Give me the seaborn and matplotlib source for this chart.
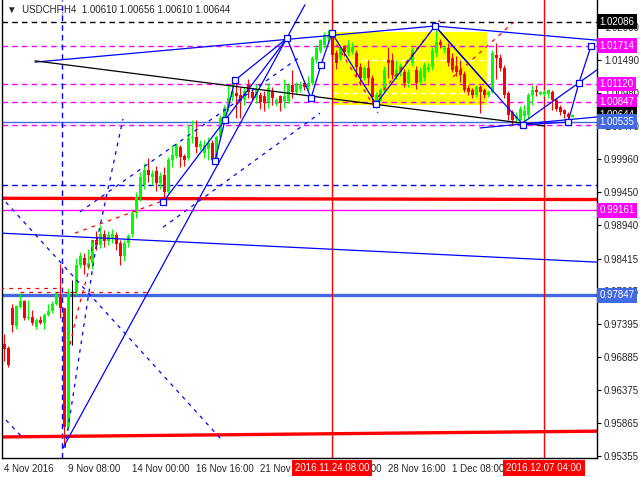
import matplotlib
matplotlib.use("Agg")
import matplotlib.pyplot as plt
import matplotlib.transforms as mtransforms
from matplotlib.patches import Rectangle
import numpy as np
import pandas as pd
import seaborn as sns

# H4 candles, USDCHF 4 Nov - 7 Dec 2016
opens = [0.9709, 0.9703, 0.9765, 0.9737, 0.9766, 0.9775, 0.9749, 0.9751, 0.9735, 0.9746,
         0.9742, 0.9754, 0.9760, 0.9771, 0.9782, 0.9765, 0.9580, 0.9790, 0.9790, 0.9831,
         0.9843, 0.9829, 0.9834, 0.9870, 0.9862, 0.9880, 0.9868, 0.9873, 0.9878, 0.9866,
         0.9845, 0.9866, 0.9880, 0.9912, 0.9937, 0.9955, 0.9979, 0.9968, 0.9977, 0.9958,
         0.9971, 0.9945, 0.9994, 1.0001, 1.0014, 1.0000, 0.9997, 1.0028, 1.0030, 1.0014,
         1.0005, 1.0012, 1.0020, 0.9994, 1.0030, 1.0059, 1.0075, 1.0092, 1.0098, 1.0095,
         1.0088, 1.0110, 1.0100, 1.0090, 1.0095, 1.0093, 1.0084, 1.0100, 1.0081, 1.0093,
         1.0085, 1.0085, 1.0110, 1.0100, 1.0104, 1.0114, 1.0107, 1.0113, 1.0150, 1.0164,
         1.0172, 1.0183, 1.0188, 1.0160, 1.0153, 1.0169, 1.0160, 1.0162, 1.0160, 1.0138,
         1.0122, 1.0137, 1.0121, 1.0079, 1.0087, 1.0103, 1.0150, 1.0149, 1.0126, 1.0130,
         1.0130, 1.0113, 1.0145, 1.0134, 1.0115, 1.0121, 1.0134, 1.0138, 1.0160, 1.0177,
         1.0165, 1.0168, 1.0152, 1.0140, 1.0134, 1.0128, 1.0106, 1.0103, 1.0095, 1.0107,
         1.0103, 1.0095, 1.0100, 1.0157, 1.0152, 1.0137, 1.0098, 1.0068, 1.0058, 1.0056,
         1.0062, 1.0064, 1.0095, 1.0103, 1.0097, 1.0096, 1.0096, 1.0100, 1.0087, 1.0076,
         1.0072, 1.0066, 1.00610]
highs = [0.9725, 0.9706, 0.9771, 0.9770, 0.9788, 0.9777, 0.9777, 0.9762, 0.9749, 0.9753,
         0.9757, 0.9771, 0.9776, 0.9788, 0.9833, 0.9765, 0.9796, 0.9808, 0.9842, 0.9851,
         0.9850, 0.9856, 0.9872, 0.9885, 0.9893, 0.9886, 0.9885, 0.9888, 0.9882, 0.9870,
         0.9870, 0.9880, 0.9916, 0.9945, 0.9975, 0.9990, 0.9997, 0.9979, 0.9985, 0.9975,
         0.9983, 0.9999, 1.0017, 1.0020, 1.0017, 1.0003, 1.0048, 1.0056, 1.0056, 1.0025,
         1.0025, 1.0030, 1.0025, 1.0033, 1.0064, 1.0079, 1.0110, 1.0115, 1.0113, 1.0108,
         1.0108, 1.0120, 1.0105, 1.0112, 1.0100, 1.0102, 1.0114, 1.0108, 1.0090, 1.0095,
         1.0120, 1.0114, 1.0134, 1.0115, 1.0117, 1.0118, 1.0125, 1.0155, 1.0172, 1.0182,
         1.0192, 1.0196, 1.0192, 1.0165, 1.0172, 1.0173, 1.0180, 1.0177, 1.0165, 1.0145,
         1.0140, 1.0150, 1.0126, 1.0100, 1.0106, 1.0140, 1.0170, 1.0160, 1.0150, 1.0145,
         1.0135, 1.0135, 1.0170, 1.0140, 1.0138, 1.0146, 1.0145, 1.0170, 1.0200, 1.0182,
         1.0172, 1.0175, 1.0160, 1.0155, 1.0150, 1.0132, 1.0110, 1.0106, 1.0110, 1.0110,
         1.0106, 1.0103, 1.0165, 1.0175, 1.0158, 1.0142, 1.0101, 1.0072, 1.0068, 1.0078,
         1.0080, 1.0098, 1.0111, 1.0111, 1.0102, 1.0103, 1.0104, 1.0103, 1.0090, 1.0080,
         1.0074, 1.0068, 1.00656]
lows = [0.9683, 0.9673, 0.9727, 0.9733, 0.9765, 0.9746, 0.9746, 0.9738, 0.9733, 0.9740,
        0.9733, 0.9753, 0.9757, 0.9770, 0.9749, 0.9552, 0.9576, 0.9707, 0.9785, 0.9827,
        0.9817, 0.9825, 0.9825, 0.9855, 0.9858, 0.9860, 0.9862, 0.9866, 0.9855, 0.9831,
        0.9838, 0.9860, 0.9875, 0.9905, 0.9930, 0.9950, 0.9960, 0.9955, 0.9946, 0.9950,
        0.9932, 0.9943, 0.9983, 0.9998, 0.9983, 0.9985, 0.9994, 1.0020, 1.0005, 1.0010,
        0.9998, 0.9994, 0.9990, 0.9990, 1.0025, 1.0055, 1.0070, 1.0085, 1.0060, 1.0059,
        1.0080, 1.0090, 1.0085, 1.0082, 1.0074, 1.0070, 1.0075, 1.0080, 1.0078, 1.0070,
        1.0075, 1.0082, 1.0090, 1.0097, 1.0100, 1.0103, 1.0102, 1.0110, 1.0145, 1.0160,
        1.0168, 1.0175, 1.0150, 1.0135, 1.0150, 1.0156, 1.0155, 1.0158, 1.0125, 1.0110,
        1.0118, 1.0110, 1.0084, 1.0075, 1.0085, 1.0100, 1.0121, 1.0120, 1.0120, 1.0125,
        1.0108, 1.0108, 1.0140, 1.0105, 1.0110, 1.0116, 1.0130, 1.0134, 1.0154, 1.0168,
        1.0160, 1.0140, 1.0130, 1.0125, 1.0115, 1.0100, 1.0095, 1.0090, 1.0092, 1.0067,
        1.0090, 1.0092, 1.0098, 1.0120, 1.0132, 1.0090, 1.0056, 1.0049, 1.0052, 1.0050,
        1.0045, 1.0060, 1.0080, 1.0094, 1.0095, 1.0093, 1.0090, 1.0072, 1.0070, 1.0064,
        1.0060, 1.0054, 1.00610]
closes = [0.9701, 0.9676, 0.9738, 0.9768, 0.9775, 0.9749, 0.9751, 0.9742, 0.9746, 0.9742,
          0.9754, 0.9760, 0.9771, 0.9788, 0.9765, 0.9580, 0.9788, 0.9790, 0.9831, 0.9845,
          0.9831, 0.9834, 0.9870, 0.9862, 0.9880, 0.9868, 0.9878, 0.9880, 0.9864, 0.9845,
          0.9866, 0.9877, 0.9912, 0.9937, 0.9968, 0.9979, 0.9971, 0.9972, 0.9958, 0.9970,
          0.9945, 0.9994, 1.0002, 1.0017, 0.9999, 0.9995, 1.0028, 1.0030, 1.0014, 1.0019,
          1.0017, 1.0020, 0.9994, 1.0030, 1.0059, 1.0075, 1.0090, 1.0102, 1.0093, 1.0086,
          1.0102, 1.0100, 1.0090, 1.0105, 1.0084, 1.0082, 1.0106, 1.0090, 1.0087, 1.0083,
          1.0093, 1.0110, 1.0100, 1.0110, 1.0112, 1.0107, 1.0114, 1.0152, 1.0168, 1.0180,
          1.0188, 1.0188, 1.0157, 1.0144, 1.0169, 1.0161, 1.0172, 1.0170, 1.0138, 1.0121,
          1.0137, 1.0121, 1.0092, 1.0095, 1.0103, 1.0134, 1.0144, 1.0126, 1.0134, 1.0140,
          1.0113, 1.0130, 1.0165, 1.0113, 1.0132, 1.0141, 1.0138, 1.0165, 1.0177, 1.0172,
          1.0168, 1.0145, 1.0134, 1.0130, 1.0126, 1.0103, 1.0100, 1.0095, 1.0107, 1.0100,
          1.0095, 1.0100, 1.0160, 1.0152, 1.0137, 1.0095, 1.0064, 1.0056, 1.0062, 1.0074,
          1.0070, 1.0095, 1.0103, 1.0100, 1.0099, 1.0100, 1.0103, 1.0087, 1.0074, 1.0068,
          1.0066, 1.0061, 1.00644]

y_ticks = [0.95355, 0.95865, 0.96375, 0.96885, 0.97395, 0.97905, 0.98415, 0.98940,
           0.99450, 0.99960, 1.00470, 1.00980, 1.01490, 1.02000]
x_tick_pos = [0, 16, 32, 48, 64, 80, 96, 112]
x_tick_labels = ["4 Nov 2016", "9 Nov 08:00", "14 Nov 00:00", "16 Nov 16:00", "21 Nov 16:00",
                 "23 Nov 08:00", "28 Nov 16:00", "1 Dec 08:00"]

# price labels on the right axis
label_prices = [1.02086, 1.01714, 1.01120, 1.00847, 1.00644, 1.00535, 0.99161, 0.97847]
label_colors = ["black", "#FF00FF", "#FF00FF", "#FF00FF", "black", "#4169E1", "#FF00FF", "#4169E1"]

# marked times (bar index, label)
time_marks = [82, 135]
time_labels = ["2016.11.24 08:00", "2016.12.07 04:00"]

# horizontal levels
magenta_dashed = [1.01714, 1.01120, 1.00847, 1.0049]
white_dashed = [1.0149, 1.0098]
black_dashed = 1.02086
blue_solid_level = 1.00535
blue_dashed_level = 0.9956
magenta_solid_level = 0.99161
royal_level = 0.97847

# yellow box (bar from, bar to, low, high)
box = (82, 120.75, 1.0079, 1.0192)

# drawn trend lines: (bars, prices)
zigzag_x = [70.75, 76.75, 79.25, 82, 93, 107.75, 129.75, 141, 143.75, 146.75]
zigzag_y = [1.0183, 1.0090, 1.0142, 1.0191, 1.0081, 1.0202, 1.0049, 1.0053, 1.0114, 1.0171]
wave_x = [52.75, 55.25, 57.75, 70.75]
wave_y = [0.9993, 1.0056, 1.0118, 1.0183]
solid_blue_segments = [
    ([39.75, 70.75], [0.9929, 1.0183]),
    ([14.75, 75.25], [0.9548, 1.0235]),
    ([7.75, 107.75, 148.25], [1.0146, 1.0202, 1.0180]),
    ([129.25, 148.25], [1.0050, 1.0134]),
    ([119, 148.25], [1.0044, 1.0061]),
    ([-1, 148.25], [0.9881, 0.9836]),
]
black_segments = [
    ([7.75, 135.25], [1.0148, 1.0047]),
    ([107.75, 121.5], [1.0202, 1.0106]),
]
dashed_blue_segments = [
    ([15.25, 23.25, 29.75], [0.9548, 0.9870, 1.0058]),
    ([19, 74], [0.9914, 1.0154]),
    ([39.75, 79], [0.9890, 1.0067]),
    ([-1, 54.5], [0.9939, 0.9560]),
    ([-1, 4.5], [0.9601, 0.9565]),
]
dashed_red_segments = [
    ([-1, 14.5], [0.9796, 0.9796]),
    ([4, 35.75], [0.9790, 0.9790]),
    ([16.5, 18.5, 21, 22.25], [0.9708, 0.9762, 0.9819, 0.9870]),
    ([17.75, 41.5], [0.9881, 0.9935]),
    ([82, 93.5], [1.0185, 1.0067]),
    ([93.5, 109], [1.0092, 1.0211]),
    ([112.25, 127.25], [1.0123, 1.0207]),
]
red_thick_segments = [
    ([-1, 148.25], [0.9935, 0.9933]),
    ([-1, 148.25], [0.9565, 0.9574]),
]

sns.set_style("white")
plt.rcParams["font.family"] = ["Liberation Sans", "DejaVu Sans"]

df = pd.DataFrame({"o": opens, "h": highs, "l": lows, "c": closes})
df["i"] = np.arange(len(df))
df["col"] = np.where(df.c > df.o, "#00FF00", np.where(df.c < df.o, "#FF0000", "black"))

fig = plt.figure(figsize=(6.4, 4.8), dpi=100)
ax = fig.add_axes([2 / 640, 22 / 480, 595 / 640, 458 / 480])
ax.set_xlim(-0.5, 148.25)
ax.set_ylim(0.95324, 1.02423)

ax.add_patch(Rectangle((box[0], box[2]), box[1] - box[0], box[3] - box[2],
                       facecolor="#FFFF00", edgecolor="none", zorder=0.5))

for v in white_dashed:
    ax.axhline(v, color="white", lw=1, ls=(0, (4, 3)), zorder=0.8)
for v in magenta_dashed:
    ax.axhline(v, color="#FF00FF", lw=1, ls=(0, (4, 3)), zorder=1)
ax.axhline(black_dashed, color="black", lw=1, ls=(0, (4, 3)), zorder=1)
ax.axhline(blue_solid_level, color="#4169E1", lw=1, zorder=1)
ax.axhline(blue_dashed_level, color="#0000FF", lw=1, ls=(0, (4, 3)), zorder=1)
ax.axhline(magenta_solid_level, color="#FF00FF", lw=1, zorder=1)
ax.axhline(royal_level, color="#4169E1", lw=2.4, zorder=1)
ax.axvline(14.5, color="#0000FF", lw=1, ls=(0, (4, 3)), zorder=1)
for t in time_marks:
    ax.axvline(t, color="#FF0000", lw=1, zorder=1)

# candles
ax.vlines(df.i, df.l, df.h, colors=df.col, lw=0.8, zorder=3)
body = df[df.c != df.o]
ax.bar(body.i, body.c - body.o, bottom=body.o, width=0.75, color=body.col, lw=0, zorder=3)
doji = df[df.c == df.o]
ax.hlines(doji.c, doji.i - 0.4, doji.i + 0.4, colors="black", lw=0.8, zorder=3)

def seg(xs, ys, **kw):
    sns.lineplot(x=xs, y=ys, sort=False, estimator=None, ax=ax, legend=False, **kw)

for xs, ys in red_thick_segments:
    seg(xs, ys, color="#FF0000", lw=2.4, zorder=2)
for xs, ys in solid_blue_segments:
    seg(xs, ys, color="#0000FF", lw=0.9, zorder=4)
for xs, ys in black_segments:
    seg(xs, ys, color="black", lw=0.9, zorder=4)
for xs, ys in dashed_blue_segments:
    seg(xs, ys, color="#0000FF", lw=0.9, ls=(0, (3, 4)), zorder=4)
for xs, ys in dashed_red_segments:
    seg(xs, ys, color="#FF0000", lw=0.9, ls=(0, (3, 4)), zorder=4)
seg(wave_x, wave_y, color="#0000FF", lw=0.9, zorder=4)
seg(zigzag_x, zigzag_y, color="#0000FF", lw=0.9, zorder=4)
ax.scatter(zigzag_x + wave_x[:3] + [39.75], zigzag_y + wave_y[:3] + [0.9929], marker="s", s=14,
           facecolor="white", edgecolor="#0000FF", lw=0.9, zorder=5)

# axes styling
for s in ["left", "bottom", "right"]:
    ax.spines[s].set_color("black")
    ax.spines[s].set_linewidth(1)
ax.spines["top"].set_visible(False)
ax.yaxis.tick_right()
ax.set_yticks(y_ticks)
ax.set_yticklabels([f"{v:.5f}" for v in y_ticks])
ax.set_xticks(x_tick_pos)
ax.set_xticklabels(x_tick_labels, ha="left")
ax.tick_params(axis="both", labelsize=7, length=3, direction="out", color="black", pad=2)
ax.tick_params(axis="x", pad=1)

yt = mtransforms.blended_transform_factory(ax.transAxes, ax.transData)
for p, c in zip(label_prices, label_colors):
    ax.text(1.004, p, f"{p:.5f}", transform=yt, fontsize=7, color="white", va="center", ha="left",
            bbox=dict(boxstyle="square,pad=0.25", facecolor=c, edgecolor="none"), zorder=10, clip_on=False)

xt = mtransforms.blended_transform_factory(ax.transData, ax.transAxes)
for t, lab in zip(time_marks, time_labels):
    ax.text(t, -0.021, lab, transform=xt, fontsize=7, color="white", va="center", ha="center",
            bbox=dict(boxstyle="square,pad=0.3", facecolor="#FF0000", edgecolor="none"), zorder=10, clip_on=False)

fig.text(7 / 640, 1 - 10 / 480, "\u25BC  USDCHF,H4  1.00610 1.00656 1.00610 1.00644",
         fontsize=7, va="center", ha="left")

fig.savefig("out.png", dpi=100)
